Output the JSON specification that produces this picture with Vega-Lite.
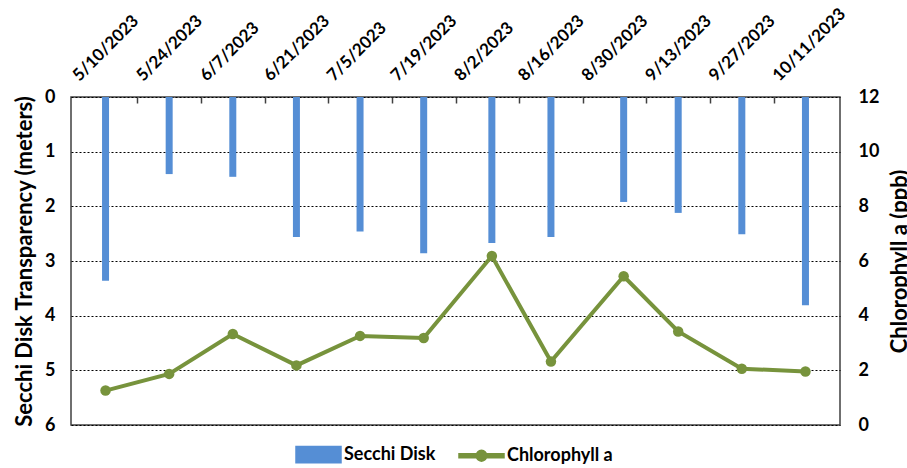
{
  "$schema": "https://vega.github.io/schema/vega-lite/v6.json",
  "width": 769,
  "height": 328,
  "autosize": "none",
  "padding": {"left": 71, "top": 97, "right": 67, "bottom": 43},
  "config": {
    "font": "Lato",
    "view": {"stroke": "#404040", "strokeWidth": 1.5},
    "axis": {"labelFont": "Lato", "titleFont": "Lato", "labelColor": "black", "titleColor": "black"}
  },
  "data": {
    "values": [
      {"date": "2023/05/10", "secchi": 3.36, "chl": 1.26},
      {"date": "2023/05/24", "secchi": 1.41, "chl": 1.87},
      {"date": "2023/06/07", "secchi": 1.46, "chl": 3.33},
      {"date": "2023/06/21", "secchi": 2.56, "chl": 2.18},
      {"date": "2023/07/05", "secchi": 2.46, "chl": 3.26},
      {"date": "2023/07/19", "secchi": 2.86, "chl": 3.18},
      {"date": "2023/08/03", "secchi": 2.67, "chl": 6.18},
      {"date": "2023/08/16", "secchi": 2.56, "chl": 2.32},
      {"date": "2023/09/01", "secchi": 1.92, "chl": 5.44},
      {"date": "2023/09/13", "secchi": 2.12, "chl": 3.42},
      {"date": "2023/09/27", "secchi": 2.51, "chl": 2.06},
      {"date": "2023/10/11", "secchi": 3.81, "chl": 1.96}
    ]
  },
  "resolve": {"scale": {"y": "independent"}, "axis": {"x": "independent"}},
  "layer": [
    {
      "mark": {"type": "bar", "size": 7},
      "encoding": {
        "x": {
          "field": "date", "type": "temporal",
          "scale": {"domain": [{"year": 2023, "month": 5, "date": 3, "hours": 12}, {"year": 2023, "month": 10, "date": 17, "hours": 12}]},
          "axis": {
            "orient": "top", "title": null,
            "values": [
              {"year": 2023, "month": 5, "date": 10}, {"year": 2023, "month": 5, "date": 24},
              {"year": 2023, "month": 6, "date": 7}, {"year": 2023, "month": 6, "date": 21},
              {"year": 2023, "month": 7, "date": 5}, {"year": 2023, "month": 7, "date": 19},
              {"year": 2023, "month": 8, "date": 2}, {"year": 2023, "month": 8, "date": 16},
              {"year": 2023, "month": 8, "date": 30}, {"year": 2023, "month": 9, "date": 13},
              {"year": 2023, "month": 9, "date": 27}, {"year": 2023, "month": 10, "date": 11}
            ],
            "format": "%-m/%-d/%Y",
            "labelAngle": -45, "labelAlign": "left", "labelBaseline": "middle",
            "labelFontSize": 17, "labelFontWeight": "bold",
            "labelOffset": -30, "labelPadding": 19,
            "ticks": false, "domain": false, "grid": false, "labelOverlap": false
          }
        },
        "y": {
          "field": "secchi", "type": "quantitative",
          "scale": {"domain": [0, 6], "reverse": true},
          "axis": {
            "title": "Secchi Disk Transparency (meters)",
            "titleFontSize": 22, "titleFontWeight": "bold", "titlePadding": 8,
            "values": [0, 1, 2, 3, 4, 5, 6],
            "labelFontSize": 18, "labelFontWeight": "bold", "labelPadding": 16,
            "grid": true, "gridColor": "black", "gridDash": [2, 2], "gridWidth": 1,
            "ticks": false, "domain": false
          }
        },
        "color": {
          "datum": "Secchi Disk", "type": "nominal",
          "scale": {"domain": ["Secchi Disk", "Chlorophyll a"], "range": ["#558ED5", "#77933C"]},
          "legend": {
            "title": null, "orient": "none", "legendX": 224, "legendY": 334,
            "direction": "horizontal", "columns": 2, "columnPadding": 20,
            "labelFontSize": 18, "labelFontWeight": "bold", "labelColor": "black", "labelOffset": 2,
            "symbolSize": 2025,
            "encode": {
              "symbols": {
                "update": {
                  "shape": {"signal": "datum.value === 'Secchi Disk' ? 'M-1,-0.36H1V0.36H-1Z' : 'M-1,-0.09H1V0.09H-1Z M0.24,0A0.24,0.24,0,1,1,-0.24,0A0.24,0.24,0,1,1,0.24,0Z'"},
                  "fill": {"signal": "datum.value === 'Secchi Disk' ? '#558ED5' : '#77933C'"},
                  "stroke": {"value": "transparent"},
                  "opacity": {"value": 1},
                  "fillOpacity": {"value": 1}
                }
              }
            }
          }
        }
      }
    },
    {
      "encoding": {
        "x": {
          "field": "date", "type": "temporal",
          "axis": {
            "orient": "top", "title": null,
            "values": [
              {"year": 2023, "month": 5, "date": 17}, {"year": 2023, "month": 5, "date": 31},
              {"year": 2023, "month": 6, "date": 14}, {"year": 2023, "month": 6, "date": 28},
              {"year": 2023, "month": 7, "date": 12}, {"year": 2023, "month": 7, "date": 26},
              {"year": 2023, "month": 8, "date": 9}, {"year": 2023, "month": 8, "date": 23},
              {"year": 2023, "month": 9, "date": 6}, {"year": 2023, "month": 9, "date": 20},
              {"year": 2023, "month": 10, "date": 4}
            ],
            "labels": false, "domain": false, "grid": false,
            "ticks": true, "tickSize": -6, "tickColor": "#404040", "tickWidth": 1.5
          }
        },
        "y": {
          "field": "chl", "type": "quantitative",
          "scale": {"domain": [0, 12]},
          "axis": {
            "orient": "right",
            "title": "Chlorophyll a (ppb)", "titleAngle": -90,
            "titleFontSize": 22, "titleFontWeight": "bold", "titlePadding": 33,
            "values": [0, 2, 4, 6, 8, 10, 12],
            "labelFontSize": 18, "labelFontWeight": "bold", "labelPadding": 18,
            "grid": false, "ticks": false, "domain": false
          }
        },
        "color": {"datum": "Chlorophyll a", "type": "nominal"}
      },
      "layer": [
        {"mark": {"type": "line", "strokeWidth": 4}},
        {"mark": {"type": "point", "filled": true, "size": 110, "opacity": 1}}
      ]
    }
  ]
}
